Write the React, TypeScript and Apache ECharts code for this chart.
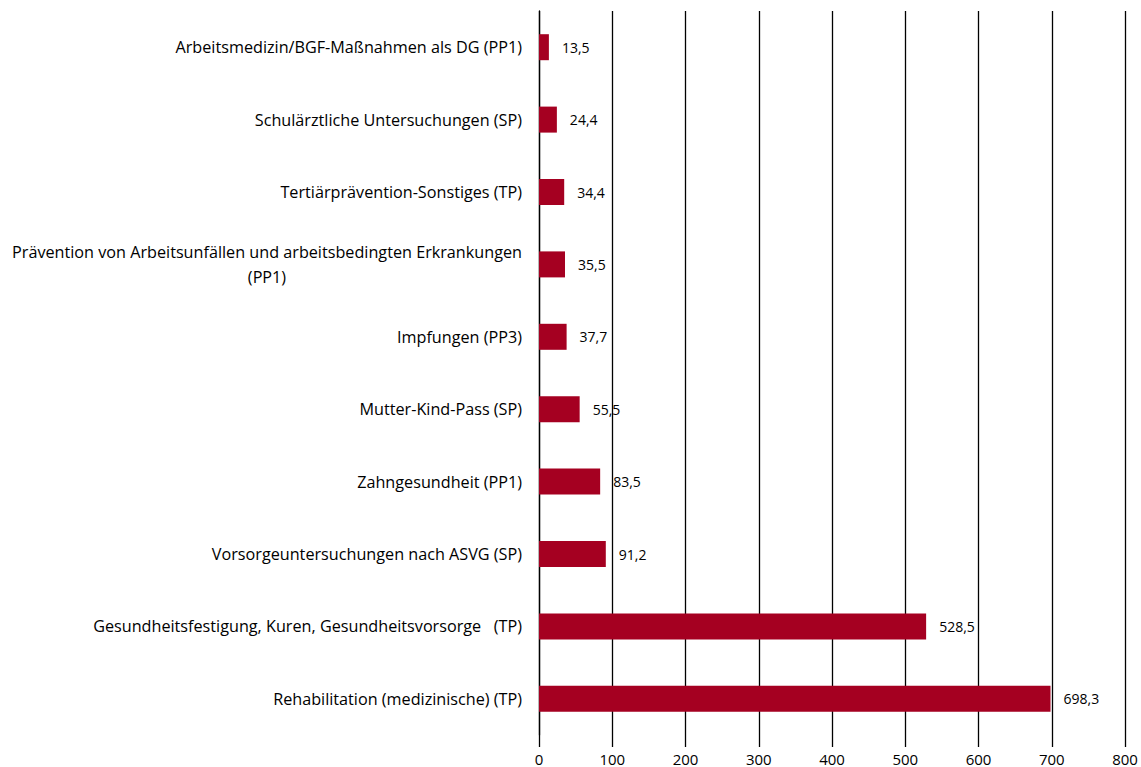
import React, { useEffect, useRef } from "react";
import * as echarts from "echarts";

const categories: string[] = [
  "Arbeitsmedizin/BGF-Maßnahmen als DG (PP1)",
  "Schulärztliche Untersuchungen (SP)",
  "Tertiärprävention-Sonstiges (TP)",
  "Prävention von Arbeitsunfällen und arbeitsbedingten Erkrankungen\n(PP1)",
  "Impfungen (PP3)",
  "Mutter-Kind-Pass (SP)",
  "Zahngesundheit (PP1)",
  "Vorsorgeuntersuchungen nach ASVG (SP)",
  "Gesundheitsfestigung, Kuren, Gesundheitsvorsorge   (TP)",
  "Rehabilitation (medizinische) (TP)",
];

const values: number[] = [13.5, 24.4, 34.4, 35.5, 37.7, 55.5, 83.5, 91.2, 528.5, 698.3];

const xTicks: number[] = [0, 100, 200, 300, 400, 500, 600, 700, 800];

const FONT = "'Open Sans', sans-serif";
const CAT_SIZE = 16.2;

function measure(text: string): number {
  const c = document.createElement("canvas");
  const ctx = c.getContext("2d");
  if (!ctx) return 500;
  ctx.font = `${CAT_SIZE}px 'Open Sans'`;
  return Math.ceil(ctx.measureText(text).width);
}

export default function App() {
  const ref = useRef<HTMLDivElement>(null);
  useEffect(() => {
    if (!ref.current) return;
    const chart = echarts.init(ref.current, null, { renderer: "svg" });
    const longest = Math.max(
      ...categories.filter((c) => c.indexOf("\n") >= 0).flatMap((c) => c.split("\n").map(measure)),
      1
    );
    chart.setOption({
      animation: false,
      backgroundColor: "#ffffff",
      grid: { left: 539, right: 16, top: 11, bottom: 32, containLabel: false },
      xAxis: {
        type: "value",
        min: xTicks[0],
        max: xTicks[xTicks.length - 1],
        interval: 100,
        axisLine: { show: false },
        axisTick: { show: true, length: 12, lineStyle: { color: "#000", width: 1.3 } },
        splitLine: { show: true, lineStyle: { color: "#000", width: 1.3 } },
        axisLabel: {
          color: "#000",
          fontFamily: FONT,
          fontSize: 15,
          margin: 16,
        },
      },
      yAxis: {
        type: "category",
        inverse: true,
        data: categories,
        axisLine: { show: true, lineStyle: { color: "#000", width: 1.3 } },
        axisTick: { show: false },
        axisLabel: {
          color: "#000",
          fontFamily: FONT,
          fontSize: CAT_SIZE,
          margin: 17,
          lineHeight: 25,
          formatter: (v: string) => {
            if (v.indexOf("\n") >= 0) {
              return v
                .split("\n")
                .map((s) => "{w|" + s + "}")
                .join("\n");
            }
            return v;
          },
          rich: {
            w: {
              width: longest,
              align: "center",
              fontFamily: FONT,
              fontSize: CAT_SIZE,
              color: "#000",
              lineHeight: 25,
            },
          },
        },
      },
      series: [
        {
          type: "bar",
          data: values,
          barWidth: 26,
          itemStyle: { color: "#A50021" },
          label: {
            show: true,
            position: "right",
            distance: 13,
            color: "#000",
            fontFamily: FONT,
            fontSize: 14,
            formatter: (p: any) => String(p.value).replace(".", ","),
          },
        },
      ],
    });
    return () => chart.dispose();
  }, []);
  return (
    <div
      ref={ref}
      style={{ position: "fixed", left: 0, top: 0, width: 1141, height: 767, background: "#fff" }}
    />
  );
}
